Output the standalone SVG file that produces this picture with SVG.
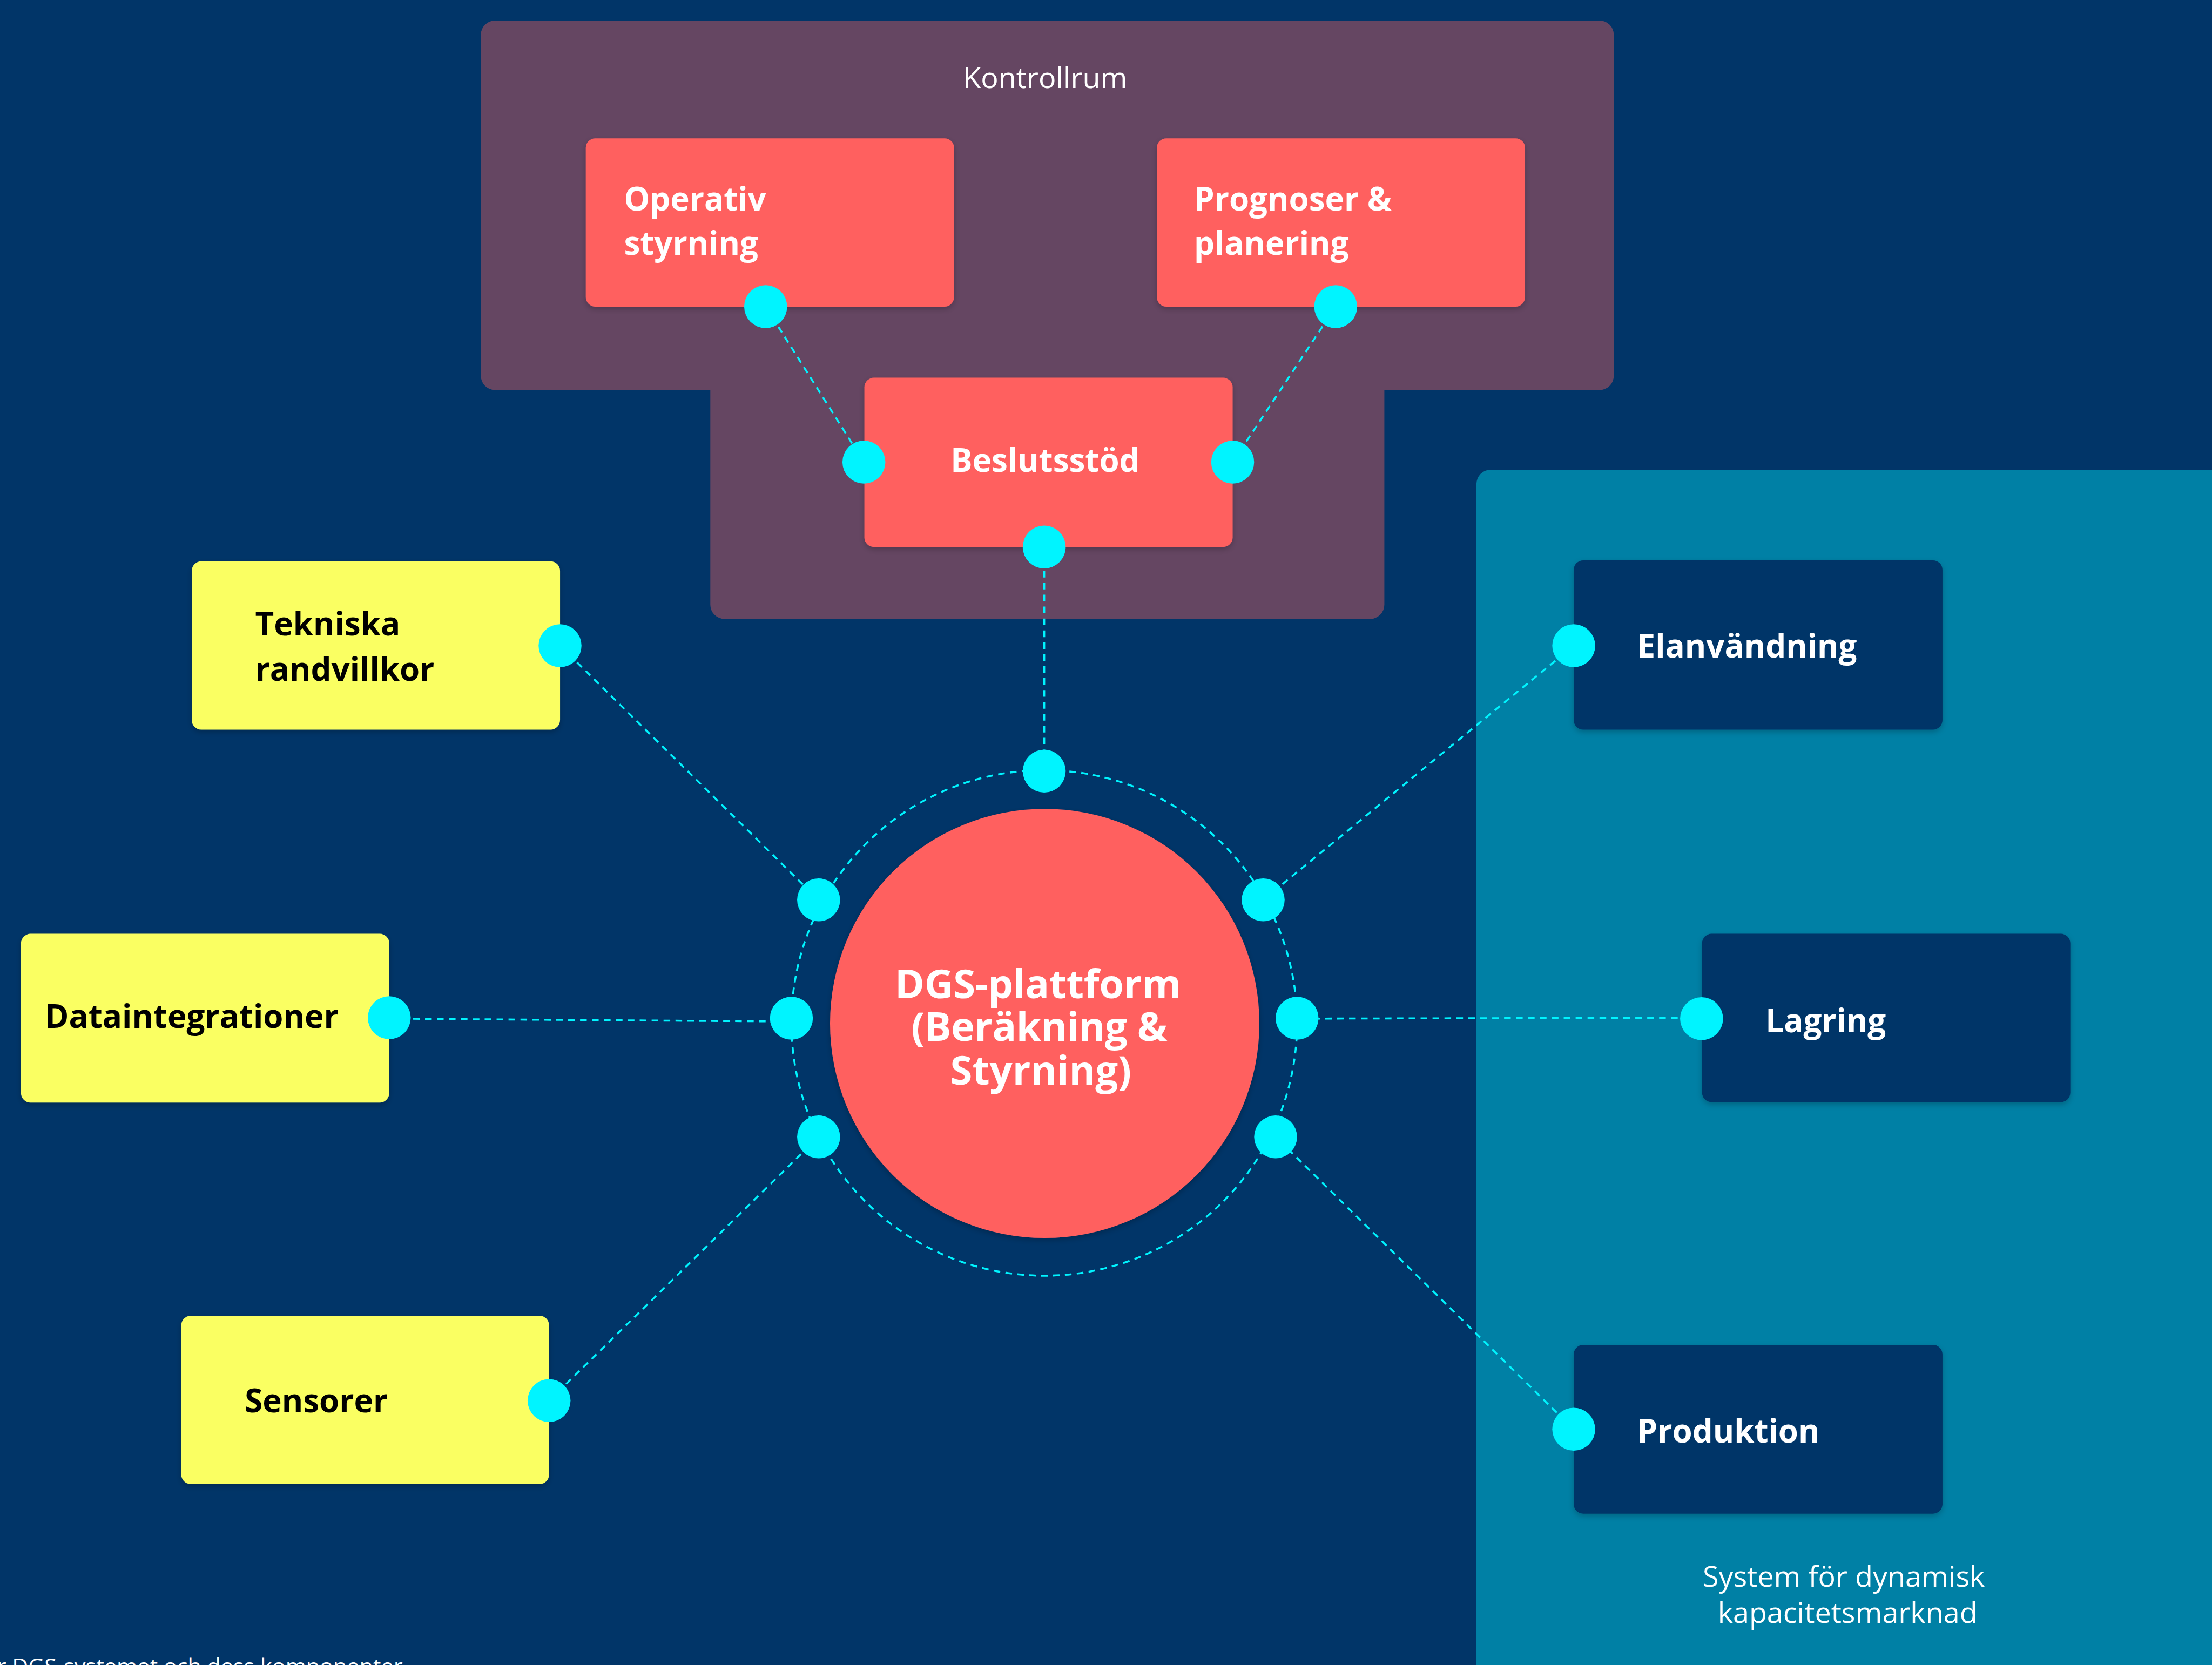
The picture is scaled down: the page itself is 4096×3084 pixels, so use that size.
<svg xmlns="http://www.w3.org/2000/svg" width="4096" height="3084" viewBox="0 0 4096 3084">
  <defs>
    <style>
      .bg { fill: #013568; }
      .room { fill: #654662; }
      .market { fill: #0080A5; }
      .coral { fill: #FF605F; }
      .yellow { fill: #FAFF62; }
      .navy { fill: #003467; }
      .port { fill: #00F4FF; }
      .link { fill: none; stroke: #00F4FF; stroke-width: 4; stroke-dasharray: 14 11; }
      .lbl { font-family: "Open Sans", "Liberation Sans", sans-serif; font-weight: 700; font-size: 68px; }
      .hub { font-family: "Open Sans", "Liberation Sans", sans-serif; font-weight: 700; font-size: 84px; }
      .w { fill: #FFFFFF; }
      .k { fill: #000000; }
      .cap { font-family: "Open Sans", "Liberation Sans", sans-serif; font-weight: 400; fill: #FFFFFF; }
    </style>
    <filter id="shadow" x="-10%" y="-10%" width="120%" height="130%">
      <feDropShadow dx="0" dy="5" stdDeviation="6" flood-color="#000000" flood-opacity="0.22"/>
    </filter>
  </defs>

  <rect class="bg" x="0" y="0" width="4096" height="3084"/>

  <g transform="scale(0.88333)">
    <!-- containers -->
    <g id="kontrollrum">
      <path class="room" d="M1038,43 H3353 A30,30 0 0 1 3383,73 V788 A30,30 0 0 1 3353,818 H2902 V1268 A30,30 0 0 1 2872,1298 H1519 A30,30 0 0 1 1489,1268 V818 H1038 A30,30 0 0 1 1008,788 V73 A30,30 0 0 1 1038,43 Z"/>
      <text class="cap" x="2191" y="185" font-size="61" text-anchor="middle">Kontrollrum</text>
    </g>
    <g id="kapacitetsmarknad">
      <path class="market" d="M3095,1015 A30,30 0 0 1 3125,985 H4700 V3560 H3095 Z"/>
      <text class="cap" font-size="61" text-anchor="middle">
        <tspan x="3873" y="3327">System för dynamisk</tspan>
        <tspan x="3873" y="3403">kapacitetsmarknad</tspan>
      </text>
    </g>

    <!-- connectors -->
    <g id="connectors">
      <line class="link" x1="1605" y1="643" x2="1811" y2="969"/>
      <line class="link" x1="2800" y1="643" x2="2584" y2="969"/>
      <line class="link" x1="2189" y1="1147" x2="2189" y2="1617"/>
      <line class="link" x1="1174" y1="1354" x2="1716" y2="1887"/>
      <line class="link" x1="816" y1="2136" x2="1659" y2="2142"/>
      <line class="link" x1="1151" y1="2937" x2="1716" y2="2384"/>
      <line class="link" x1="3299" y1="1354" x2="2648" y2="1887"/>
      <line class="link" x1="3567" y1="2134" x2="2719" y2="2136"/>
      <line class="link" x1="3299" y1="2997" x2="2674" y2="2384"/>
      <circle class="link" cx="2189" cy="2145" r="530"/>
    </g>

    <!-- control room nodes -->
    <g id="operativ-styrning">
      <rect class="coral" x="1228" y="290" width="772" height="353" rx="20" filter="url(#shadow)"/>
      <text class="lbl w"><tspan x="1308" y="441">Operativ</tspan><tspan x="1308" y="534">styrning</tspan></text>
      <circle class="port" cx="1605" cy="643" r="45"/>
    </g>
    <g id="prognoser-planering">
      <rect class="coral" x="2425" y="290" width="772" height="353" rx="20" filter="url(#shadow)"/>
      <text class="lbl w"><tspan x="2503" y="441">Prognoser &amp;</tspan><tspan x="2503" y="534">planering</tspan></text>
      <circle class="port" cx="2800" cy="643" r="45"/>
    </g>
    <g id="beslutsstod">
      <rect class="coral" x="1812" y="792" width="772" height="355" rx="20" filter="url(#shadow)"/>
      <text class="lbl w" x="2191" y="990" text-anchor="middle">Beslutsstöd</text>
      <circle class="port" cx="1811" cy="969" r="45"/>
      <circle class="port" cx="2584" cy="969" r="45"/>
      <circle class="port" cx="2189" cy="1147" r="45"/>
    </g>

    <!-- platform -->
    <g id="dgs-plattform">
      <circle class="coral" cx="2190" cy="2146" r="450" filter="url(#shadow)"/>
      <text class="hub w">
        <tspan x="1876" y="2093" textLength="600">DGS-plattform</tspan>
        <tspan x="1910" y="2183" textLength="537">(Beräkning &amp;</tspan>
        <tspan x="1992" y="2274" textLength="380">Styrning)</tspan>
      </text>
      <circle class="port" cx="2189" cy="1617" r="45"/>
      <circle class="port" cx="1716" cy="1887" r="45"/>
      <circle class="port" cx="1659" cy="2135" r="45"/>
      <circle class="port" cx="1716" cy="2384" r="45"/>
      <circle class="port" cx="2648" cy="1887" r="45"/>
      <circle class="port" cx="2719" cy="2135" r="45"/>
      <circle class="port" cx="2674" cy="2384" r="45"/>
    </g>

    <!-- inputs -->
    <g id="tekniska-randvillkor">
      <rect class="yellow" x="402" y="1177" width="772" height="353" rx="20" filter="url(#shadow)"/>
      <text class="lbl k"><tspan x="535" y="1332">Tekniska</tspan><tspan x="535" y="1428">randvillkor</tspan></text>
      <circle class="port" cx="1174" cy="1354" r="45"/>
    </g>
    <g id="dataintegrationer">
      <rect class="yellow" x="44" y="1958" width="772" height="354" rx="20" filter="url(#shadow)"/>
      <text class="lbl k" x="94" y="2156">Dataintegrationer</text>
      <circle class="port" cx="816" cy="2134" r="45"/>
    </g>
    <g id="sensorer">
      <rect class="yellow" x="380" y="2759" width="771" height="353" rx="20" filter="url(#shadow)"/>
      <text class="lbl k" x="513" y="2962">Sensorer</text>
      <circle class="port" cx="1151" cy="2937" r="45"/>
    </g>

    <!-- market nodes -->
    <g id="elanvandning">
      <rect class="navy" x="3299" y="1175" width="773" height="355" rx="20" filter="url(#shadow)"/>
      <text class="lbl w" x="3432" y="1379">Elanvändning</text>
      <circle class="port" cx="3299" cy="1354" r="45"/>
    </g>
    <g id="lagring">
      <rect class="navy" x="3568" y="1958" width="772" height="353" rx="20" filter="url(#shadow)"/>
      <text class="lbl w" x="3701" y="2165">Lagring</text>
      <circle class="port" cx="3567" cy="2136" r="45"/>
    </g>
    <g id="produktion">
      <rect class="navy" x="3299" y="2820" width="773" height="354" rx="20" filter="url(#shadow)"/>
      <text class="lbl w" x="3432" y="3025">Produktion</text>
      <circle class="port" cx="3299" cy="2997" r="45"/>
    </g>

    <!-- caption, partly below the lower edge -->
    <text class="cap" x="-6" y="3511" font-size="46" textLength="850" lengthAdjust="spacingAndGlyphs">r DGS-systemet och dess komponenter</text>
  </g>
</svg>
